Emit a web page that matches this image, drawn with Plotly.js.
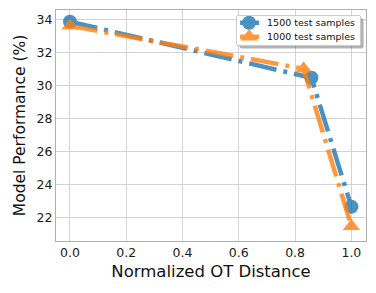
<!DOCTYPE html>
<html><head><meta charset="utf-8">
<script src="https://cdn.plot.ly/plotly-3.0.1.min.js"></script>
<style>html,body{margin:0;padding:0;background:#fff}#chart{width:376px;height:293px}</style>
</head><body><div id="chart"></div>
<script>
const x1500 = [0.0, 0.858, 1.0];
const y1500 = [33.85, 30.45, 22.64];
const x1000 = [0.0, 0.83, 1.0];
const y1000 = [33.6, 31.0, 21.45];
const names = ["1500 test samples", "1000 test samples"];
const xTicks = [0.0, 0.2, 0.4, 0.6, 0.8, 1.0];
const yTicks = [22, 24, 26, 28, 30, 32, 34];

const dash = "28px,7px,4px,7px";
const traces = [
  {x: x1500, y: y1500, name: names[0], mode: "lines+markers", opacity: 0.8,
   line: {color: "#1f77b4", width: 4.5, dash: dash},
   marker: {symbol: "circle", size: 14, color: "#1f77b4"}},
  {x: x1000, y: y1000, name: names[1], mode: "lines+markers", opacity: 0.8,
   line: {color: "#ff7f0e", width: 4.5, dash: dash},
   marker: {symbol: "triangle-up", size: 15, color: "#ff7f0e"}}
];
const axisCommon = {showline: true, mirror: true, linecolor: "#b0b0b0", linewidth: 1,
  showgrid: true, gridcolor: "#d3d3d3", gridwidth: 1, zeroline: false, automargin: false,
  ticks: "", tickfont: {family: "DejaVu Sans", size: 12.5, color: "#1a1a1a"}};
const layout = {
  width: 376, height: 293,
  margin: {l: 56, r: 9.3, t: 10, b: 52},
  paper_bgcolor: "#fff", plot_bgcolor: "#fff",
  font: {family: "DejaVu Sans"},
  xaxis: Object.assign({}, axisCommon, {range: [-0.0496, 1.052], tickvals: xTicks,
    ticktext: xTicks.map(v => v.toFixed(1)),
    title: {text: "Normalized OT Distance", font: {size: 16.5, color: "#111"}, standoff: 6}}),
  yaxis: Object.assign({}, axisCommon, {range: [20.56, 34.56], tickvals: yTicks,
    title: {text: "Model Performance (%)", font: {size: 15.5, color: "#111"}, standoff: 7}}),
  showlegend: true,
  legend: {x: 0.579, y: 0.978, xanchor: "left", yanchor: "top",
    bgcolor: "#ffffff", bordercolor: "#cccccc", borderwidth: 1,
    font: {family: "DejaVu Sans", size: 9, color: "#111"},
    itemwidth: 30}
};
Plotly.newPlot("chart", traces, layout, {displayModeBar: false, staticPlot: true}).then(function () {
  try {
    const NS = "http://www.w3.org/2000/svg";
    const lg = document.querySelector("g.legend");
    if (!lg) return;
    const W = 125, H = 31;
    const items = lg.querySelectorAll("g.traces");
    items.forEach(function (it, i) {
      it.setAttribute("transform", "translate(1," + (7.7 + i * 14) + ")");
      const t = it.querySelector("text.legendtext");
      if (t) { t.setAttribute("x", 30); t.style.fontSize = "9.5px"; }
      const ln = it.querySelector("path.js-line");
      if (ln) ln.setAttribute("d", "M3,0h19");
      it.querySelectorAll("path.scatterpts").forEach(function (p) {
        p.setAttribute("transform", "translate(12,0)");
      });
      const tg = it.querySelector("rect.legendtoggle");
      if (tg) tg.setAttribute("width", W - 2);
    });
    const bg = lg.querySelector("rect.bg");
    if (bg) {
      const bx = parseFloat(bg.getAttribute("x") || 0), by = parseFloat(bg.getAttribute("y") || 0);
      bg.setAttribute("width", W - 2 * bx);
      bg.setAttribute("height", H - 2 * by);
      bg.setAttribute("rx", 2); bg.setAttribute("ry", 2);
      const sh = document.createElementNS(NS, "rect");
      sh.setAttribute("x", bx + 3); sh.setAttribute("y", by + 3);
      sh.setAttribute("width", W - 2 * bx); sh.setAttribute("height", H - 2 * by);
      sh.setAttribute("rx", 2); sh.setAttribute("ry", 2);
      sh.setAttribute("fill", "rgba(0,0,0,0.3)");
      lg.insertBefore(sh, bg);
    }
  } catch (e) {}
});
</script></body></html>
